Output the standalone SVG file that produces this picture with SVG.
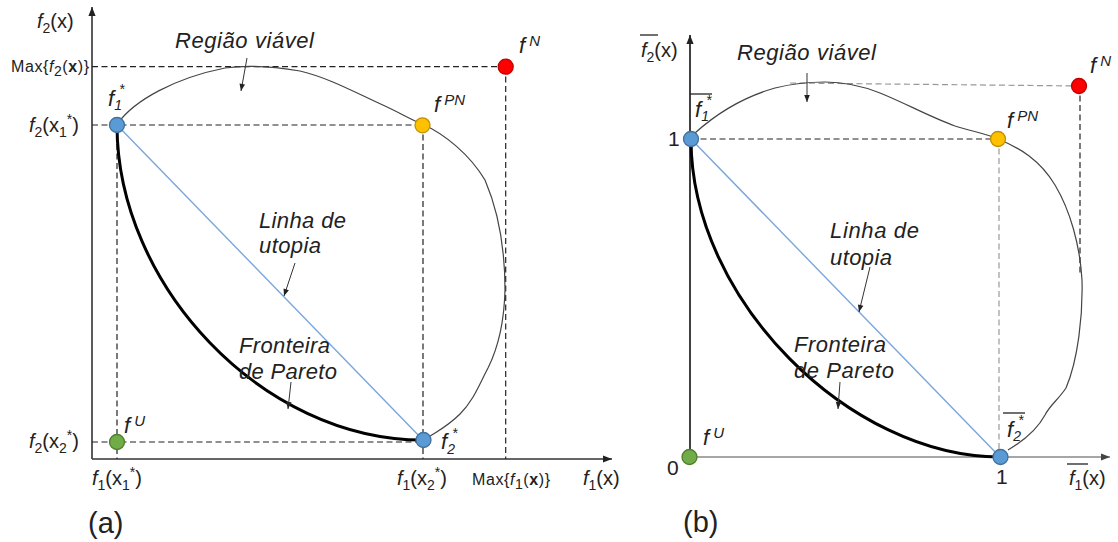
<svg xmlns="http://www.w3.org/2000/svg" width="1118" height="542" viewBox="0 0 1118 542">
<defs>
<style>
text{font-family:"Liberation Sans",Arial,sans-serif;fill:#222}
.it{font-style:italic}
.ax{font-size:20px}
.sub{font-size:14px}
.lab{font-size:22px;font-style:italic}
.pt{font-size:22px;font-style:italic}
.num{font-size:21px}
.sup{font-size:15px;font-style:italic}
.max{font-size:16px}
.cap{font-size:29px}
.axis{stroke:#333;stroke-width:1.6;fill:none}
.dash{stroke:#222;stroke-width:1.2;stroke-dasharray:6 3.5;fill:none}
.gdash{stroke:#999;stroke-width:1.2;stroke-dasharray:6 3.5;fill:none}
.region{stroke:#444;stroke-width:1.2;fill:none}
.pareto{stroke:#000;stroke-width:3;fill:none}
.utopia{stroke:#7aa6dc;stroke-width:1.4;fill:none}
.ptr{stroke:#333;stroke-width:1;fill:none}
.ovl{stroke:#222;stroke-width:1.3}
.blue{fill:#5b9bd5;stroke:#41719c;stroke-width:1.3}
.yel{fill:#ffc000;stroke:#bf9000;stroke-width:1.3}
.red{fill:#ff0000;stroke:#c00000;stroke-width:1.3}
.grn{fill:#70ad47;stroke:#507e32;stroke-width:1.3}
</style>
<marker id="axh" viewBox="0 0 10 10" refX="10" refY="5" markerWidth="10" markerHeight="9" markerUnits="userSpaceOnUse" orient="auto"><path d="M0,1 L10,5 L0,9 z" fill="#222"/></marker>
<marker id="axg" viewBox="0 0 10 10" refX="10" refY="5" markerWidth="10" markerHeight="9" markerUnits="userSpaceOnUse" orient="auto"><path d="M0,1 L10,5 L0,9 z" fill="#444"/></marker>
<marker id="ph" viewBox="0 0 10 10" refX="10" refY="5" markerWidth="8" markerHeight="7" markerUnits="userSpaceOnUse" orient="auto"><path d="M0,1 L10,5 L0,9 z" fill="#222"/></marker>
</defs>

<!-- ================= PANEL (a) ================= -->
<g id="panel-a-axes">
<line class="axis" x1="92" y1="459" x2="92" y2="7" marker-end="url(#axh)"/>
<line class="axis" x1="92" y1="459" x2="612" y2="459" marker-end="url(#axh)"/>
</g>
<g id="panel-a-guides">
<line class="dash" x1="92" y1="66.7" x2="505" y2="66.7"/>
<line class="dash" x1="92" y1="125" x2="422" y2="125"/>
<line class="dash" x1="92" y1="442" x2="423" y2="442"/>
<line class="dash" x1="117" y1="125" x2="117" y2="459"/>
<line class="dash" x1="423" y1="125" x2="423" y2="459"/>
<line class="dash" x1="505.7" y1="67" x2="505.7" y2="459"/>
</g>
<g id="panel-a-curves">
<path class="region" d="M118,123 C135,100 175,78 225,68 C245,65 270,66 300,71 C330,78 360,95 385,106 C400,113 412,120 422,124 C445,134 470,155 485,180 C500,215 505,250 505,290 C504,330 496,352 488,368 C480,383 474,400 460,414 C448,426 438,431 430,436"/>
<path class="pareto" d="M117,125 C117,285 262,440 423,440"/>
<line class="utopia" x1="117" y1="125" x2="423" y2="440"/>
</g>
<g id="panel-a-connectors">
<line class="ptr" x1="247" y1="58" x2="241" y2="91" marker-end="url(#ph)"/>
<line class="ptr" x1="295" y1="263" x2="284" y2="296" marker-end="url(#ph)"/>
<line class="ptr" x1="291" y1="382" x2="288" y2="409" marker-end="url(#ph)"/>
</g>
<g id="a-f1star"><circle class="blue" cx="117" cy="125" r="7.5"/>
<text class="pt" x="108" y="106">f<tspan class="sub" dy="4">1</tspan><tspan class="sub" dx="-3" dy="-16">*</tspan></text></g>
<g id="a-fPN"><circle class="yel" cx="422.5" cy="125.3" r="7.5"/>
<text class="pt" x="434" y="112">f<tspan class="sup" dx="4" dy="-7">PN</tspan></text></g>
<g id="a-fN"><circle class="red" cx="505.7" cy="66.7" r="7.5"/>
<text class="pt" x="519" y="53">f<tspan class="sup" dx="4" dy="-7">N</tspan></text></g>
<g id="a-fU"><circle class="grn" cx="117" cy="442" r="7.5"/>
<text class="pt" x="124" y="433">f<tspan class="sup" dx="4" dy="-7">U</tspan></text></g>
<g id="a-f2star"><circle class="blue" cx="423.5" cy="440" r="7.5"/>
<text class="pt" x="441" y="449">f<tspan class="sub" dy="5">2</tspan><tspan class="sub" dx="-3" dy="-16">*</tspan></text></g>
<g id="panel-a-labels">
<text class="ax" x="37" y="28"><tspan class="it">f</tspan><tspan class="sub" dy="5">2</tspan><tspan dy="-5">(x)</tspan></text>
<text class="max" x="11" y="72" textLength="78">Max{<tspan class="it">f</tspan><tspan class="sub" dy="4">2</tspan><tspan dy="-4">(</tspan><tspan font-weight="bold">x</tspan>)}</text>
<text class="ax" x="29" y="132"><tspan class="it">f</tspan><tspan class="sub" dy="5">2</tspan><tspan dy="-5">(x</tspan><tspan class="sub" dy="5">1</tspan><tspan class="sub" dy="-13">*</tspan><tspan dy="8">)</tspan></text>
<text class="ax" x="29" y="448"><tspan class="it">f</tspan><tspan class="sub" dy="5">2</tspan><tspan dy="-5">(x</tspan><tspan class="sub" dy="5">2</tspan><tspan class="sub" dy="-13">*</tspan><tspan dy="8">)</tspan></text>
<text class="ax" x="92" y="485"><tspan class="it">f</tspan><tspan class="sub" dy="5">1</tspan><tspan dy="-5">(x</tspan><tspan class="sub" dy="5">1</tspan><tspan class="sub" dy="-13">*</tspan><tspan dy="8">)</tspan></text>
<text class="ax" x="397" y="485"><tspan class="it">f</tspan><tspan class="sub" dy="5">1</tspan><tspan dy="-5">(x</tspan><tspan class="sub" dy="5">2</tspan><tspan class="sub" dy="-13">*</tspan><tspan dy="8">)</tspan></text>
<text class="max" x="472" y="485" textLength="78">Max{<tspan class="it">f</tspan><tspan class="sub" dy="4">1</tspan><tspan dy="-4">(</tspan><tspan font-weight="bold">x</tspan>)}</text>
<text class="ax" x="583" y="485"><tspan class="it">f</tspan><tspan class="sub" dy="5">1</tspan><tspan dy="-5">(x)</tspan></text>
<text class="lab" x="175" y="48" textLength="139">Região viável</text>
<text class="lab" x="259" y="228" textLength="87">Linha de</text>
<text class="lab" x="259" y="253" textLength="62">utopia</text>
<text class="lab" x="239" y="353" textLength="91">Fronteira</text>
<text class="lab" x="239" y="379" textLength="98">de Pareto</text>
<text class="cap" x="88" y="533">(a)</text>
</g>

<!-- ================= PANEL (b) ================= -->
<g id="panel-b-axes">
<line class="axis" x1="690" y1="457" x2="690" y2="35" marker-end="url(#axh)" style="stroke:#111"/>
<line class="axis" x1="690" y1="457" x2="1110" y2="457" marker-end="url(#axg)" style="stroke:#888"/>
</g>
<g id="panel-b-guides">
<line class="dash" x1="691" y1="139" x2="998" y2="139"/>
<line class="gdash" x1="999" y1="139" x2="999" y2="457"/>
<line class="gdash" x1="790" y1="83" x2="1080" y2="86"/>
<line class="dash" x1="1080" y1="86" x2="1080" y2="275"/>
</g>
<g id="panel-b-curves">
<path class="region" d="M695,133 C715,115 740,98 775,88 C795,83 810,82 825,82 C845,82 860,85 880,93 C905,103 930,117 955,126 C975,132 990,135 998,139 C1020,148 1040,160 1055,185 C1070,210 1080,245 1082,280 C1083,315 1078,360 1066,388 C1058,400 1050,405 1045,415 C1038,428 1025,440 1008,450"/>
<path class="pareto" d="M691,139 C691,300 850,457 1000,457"/>
<line class="utopia" x1="691" y1="139" x2="1000" y2="457"/>
</g>
<g id="panel-b-connectors">
<line class="ptr" x1="807" y1="73" x2="807" y2="102" marker-end="url(#ph)"/>
<line class="ptr" x1="870" y1="267" x2="859" y2="312" marker-end="url(#ph)"/>
<line class="ptr" x1="840" y1="382" x2="838" y2="409" marker-end="url(#ph)"/>
</g>
<g id="b-f1star"><circle class="blue" cx="691" cy="139" r="7.5"/>
<line class="ovl" x1="690" y1="94" x2="712" y2="94"/>
<text class="pt" x="695" y="117">f<tspan class="sub" dy="4">1</tspan><tspan class="sub" dx="-3" dy="-16">*</tspan></text></g>
<g id="b-fPN"><circle class="yel" cx="998" cy="139" r="7.5"/>
<text class="pt" x="1007" y="128">f<tspan class="sup" dx="4" dy="-7">PN</tspan></text></g>
<g id="b-fN"><circle class="red" cx="1079" cy="86" r="7.5"/>
<text class="pt" x="1090" y="73">f<tspan class="sup" dx="4" dy="-7">N</tspan></text></g>
<g id="b-fU"><circle class="grn" cx="689.5" cy="457" r="7.5"/>
<text class="pt" x="703" y="445">f<tspan class="sup" dx="4" dy="-7">U</tspan></text></g>
<g id="b-f2star"><circle class="blue" cx="1000.5" cy="457" r="7.5"/>
<line class="ovl" x1="1003" y1="413" x2="1025" y2="413"/>
<text class="pt" x="1007" y="437">f<tspan class="sub" dy="4">2</tspan><tspan class="sub" dx="-3" dy="-16">*</tspan></text></g>
<g id="panel-b-labels">
<line class="ovl" x1="640" y1="35" x2="658" y2="35"/>
<text class="ax" x="641" y="57"><tspan class="it">f</tspan><tspan class="sub" dy="5">2</tspan><tspan dy="-5">(x)</tspan></text>
<text class="num" x="668" y="146">1</text>
<text class="num" x="667" y="475">0</text>
<text class="num" x="996" y="484">1</text>
<line class="ovl" x1="1067" y1="464" x2="1088" y2="464"/>
<text class="ax" x="1069" y="485"><tspan class="it">f</tspan><tspan class="sub" dy="5">1</tspan><tspan dy="-5">(x)</tspan></text>
<text class="lab" x="737" y="60" textLength="139">Região viável</text>
<text class="lab" x="830" y="238" textLength="89">Linha de</text>
<text class="lab" x="830" y="265" textLength="62">utopia</text>
<text class="lab" x="794" y="352" textLength="92">Fronteira</text>
<text class="lab" x="794" y="378" textLength="100">de Pareto</text>
<text class="cap" x="683" y="532">(b)</text>
</g>
</svg>
